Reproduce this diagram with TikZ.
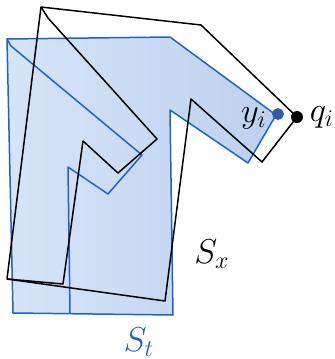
\documentclass[tikz,border=0pt]{standalone}
\definecolor{target}{HTML}{1F63C6}
\definecolor{stlight}{HTML}{D6E4F7}
\definecolor{stdark}{HTML}{BCD1EF}
\definecolor{dotblue}{HTML}{3A57A5}

\begin{document}
\begin{tikzpicture}[x=0.5pt, y=-0.5pt, line join=round,
    font=\fontsize{16.5}{19}\selectfont,
    outline/.style={line width=.75pt},
    dot/.style={circle, inner sep=0pt, minimum size=5.5pt}]
  \useasboundingbox (0,0) rectangle (335,359);

  % Target shape: shaded body, its outline and the inner leg strokes.
  \shade[left color=stlight, right color=stdark]
    (7,39) -- (170,37) -- (276,115) -- (248,163) -- (170,110) -- (173,315) -- (13,313) -- cycle;
  \draw[outline, target]
    (7,39) -- (170,37) -- (276,115) -- (248,163) -- (170,110) -- (173,315) -- (13,313) -- cycle;
  \draw[outline, target] (7,39) -- (11,46) -- (142,155) -- (108,194) -- (68,167) -- (70,313);

  % Source shape, outline only.
  \draw[outline]
    (41,7) -- (201,25) -- (297,117) -- (262,162) -- (191,99) -- (165,301) -- (7,279) -- cycle;
  \draw[outline] (41,7) -- (48,18) -- (157,139) -- (118,173) -- (83,141) -- (63,284) -- (7,279);

  % Matched point pair.
  \node[dot, fill=dotblue, draw=target, line width=.4pt] (y) at (278,114) {};
  \node[dot, fill=black, minimum size=6pt] (q) at (297,117) {};
  \node (ylabel) at (254,118) {$y_i$};
  \node (qlabel) at (322,117) {$q_i$};

  \node (sx) at (212,254) {$S_x$};
  \node[text=target] (st) at (139,342) {$S_t$};
\end{tikzpicture}
\end{document}
